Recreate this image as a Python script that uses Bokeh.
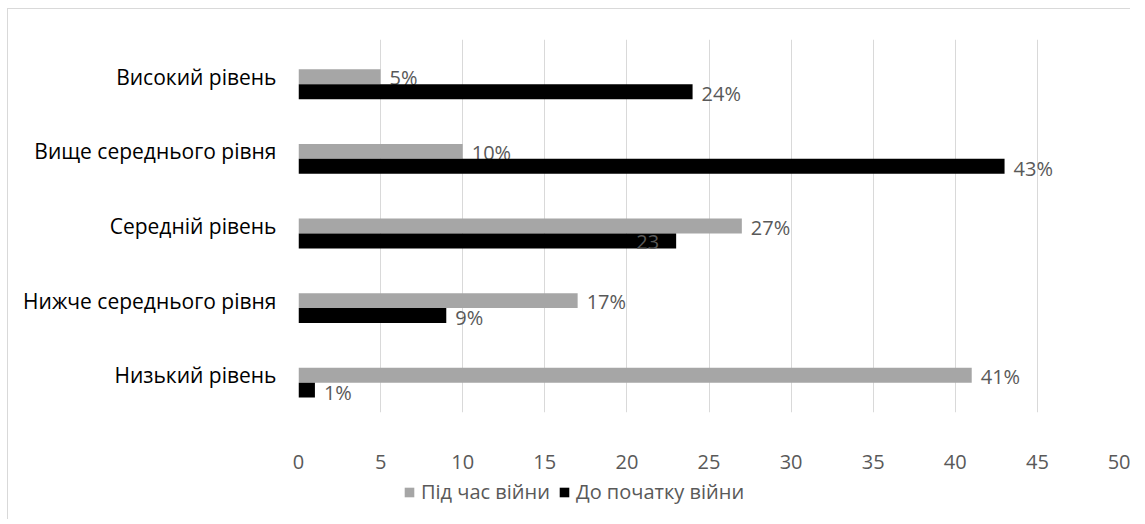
from bokeh.plotting import figure
from bokeh.layouts import column
from bokeh.models import ColumnDataSource, FixedTicker, Legend, LegendItem
from bokeh.core.properties import value
from bokeh.embed import file_html
from bokeh.resources import INLINE

categories = ["Низький рівень", "Нижче середнього рівня", "Середній рівень",
              "Вище середнього рівня", "Високий рівень"]
during_war = [41, 17, 27, 10, 5]
before_war = [1, 9, 23, 43, 24]
during_labels = ["41%", "17%", "27%", "10%", "5%"]
before_labels = ["1%", "9%", "23", "43%", "24%"]
before_label_inside = [False, False, True, False, False]
x_ticks = [0, 5, 10, 15, 20, 25, 30, 35, 40, 45, 50]
series_names = ["Під час війни", "До початку війни"]

FONT = "Open Sans"
GRAY = "#a6a6a6"
TXT = "#595959"
BORDER = "#d9d9d9"
BAR_H = 0.2

pos = list(range(len(categories)))

p = figure(output_backend="svg", toolbar_location=None,
           frame_width=820, frame_height=372,
           min_border_left=290, min_border_right=12,
           min_border_top=30, min_border_bottom=68,
           x_range=(0, 50), y_range=(-0.5, len(categories) - 0.5))
p.styles = {"border-top": f"1px solid {BORDER}", "border-left": f"1px solid {BORDER}"}
p.margin = (8, 0, 0, 7)
p.outline_line_color = None
p.background_fill_color = "white"
p.border_fill_color = "white"

src_g = ColumnDataSource(dict(y=pos, v=during_war, lab=during_labels))
src_b = ColumnDataSource(dict(y=[q - BAR_H for q in pos], v=before_war,
                              lab=before_labels))

r_g = p.hbar(y="y", right="v", left=0, height=BAR_H, source=src_g,
             fill_color=GRAY, line_color=None)
p.text(x="v", y="y", text="lab", source=src_g, x_offset=9, y_offset=1,
       text_align="left", text_baseline="middle", text_color=TXT,
       text_font=value(FONT), text_font_size="20px")

r_b = p.hbar(y="y", right="v", left=0, height=BAR_H, source=src_b,
             fill_color="black", line_color=None)

out_idx = [i for i, f in enumerate(before_label_inside) if not f]
in_idx = [i for i, f in enumerate(before_label_inside) if f]
src_bo = ColumnDataSource(dict(y=[pos[i] - BAR_H for i in out_idx],
                               v=[before_war[i] for i in out_idx],
                               lab=[before_labels[i] for i in out_idx]))
src_bi = ColumnDataSource(dict(y=[pos[i] - BAR_H for i in in_idx],
                               v=[before_war[i] for i in in_idx],
                               lab=[before_labels[i] for i in in_idx]))
p.text(x="v", y="y", text="lab", source=src_bo, x_offset=9, y_offset=2,
       text_align="left", text_baseline="middle", text_color=TXT,
       text_font=value(FONT), text_font_size="20px")
p.text(x="v", y="y", text="lab", source=src_bi, x_offset=-17, y_offset=1,
       text_align="right", text_baseline="middle", text_color=TXT,
       text_font=value(FONT), text_font_size="20px")

# axes
p.xaxis.ticker = FixedTicker(ticks=x_ticks)
p.xaxis.axis_line_color = None
p.xaxis.major_tick_line_color = None
p.xaxis.minor_tick_line_color = None
p.xaxis.major_tick_out = 0
p.xaxis.major_tick_in = 0
p.xaxis.major_label_standoff = 42
p.xaxis.major_label_text_font = FONT
p.xaxis.major_label_text_font_size = "20px"
p.xaxis.major_label_text_color = TXT

p.yaxis.ticker = FixedTicker(ticks=pos)
p.yaxis.major_label_overrides = {i: c for i, c in zip(pos, categories)}
p.yaxis.axis_line_color = None
p.yaxis.major_tick_line_color = None
p.yaxis.minor_tick_line_color = None
p.yaxis.major_tick_out = 0
p.yaxis.major_tick_in = 0
p.yaxis.major_label_standoff = 22
p.yaxis.major_label_text_font = FONT
p.yaxis.major_label_text_font_size = "21px"
p.yaxis.major_label_text_color = "black"

p.xgrid.grid_line_color = BORDER
p.xgrid.grid_line_width = 1
p.ygrid.grid_line_color = None

# legend strip below the chart (its renderers reuse the data, hidden)
lg = figure(output_backend="svg", toolbar_location=None,
            width=1122, height=40, min_border=0,
            x_range=(0, 50), y_range=(-0.5, len(categories) - 0.5))
lg.styles = {"border-left": f"1px solid {BORDER}"}
lg.margin = (0, 0, 0, 7)
lg.outline_line_color = None
lg.axis.visible = False
lg.grid.visible = False
lg_g = lg.hbar(y="y", right="v", left=0, height=BAR_H, source=src_g,
               fill_color=GRAY, line_color=None, visible=False)
lg_b = lg.hbar(y="y", right="v", left=0, height=BAR_H, source=src_b,
               fill_color="black", line_color=None, visible=False)

legend = Legend(items=[LegendItem(label=series_names[0], renderers=[lg_g]),
                       LegendItem(label=series_names[1], renderers=[lg_b])],
                orientation="horizontal", location=(105, 14),
                label_text_font=FONT, label_text_font_size="20px",
                label_text_color=TXT, glyph_width=12, glyph_height=12,
                label_standoff=6, spacing=8, padding=0, margin=0,
                inactive_fill_alpha=0,
                border_line_color=None, background_fill_alpha=0)
lg.add_layout(legend, "center")

layout = column(p, lg, spacing=0)
open("out.html", "w").write(file_html(layout, INLINE))
